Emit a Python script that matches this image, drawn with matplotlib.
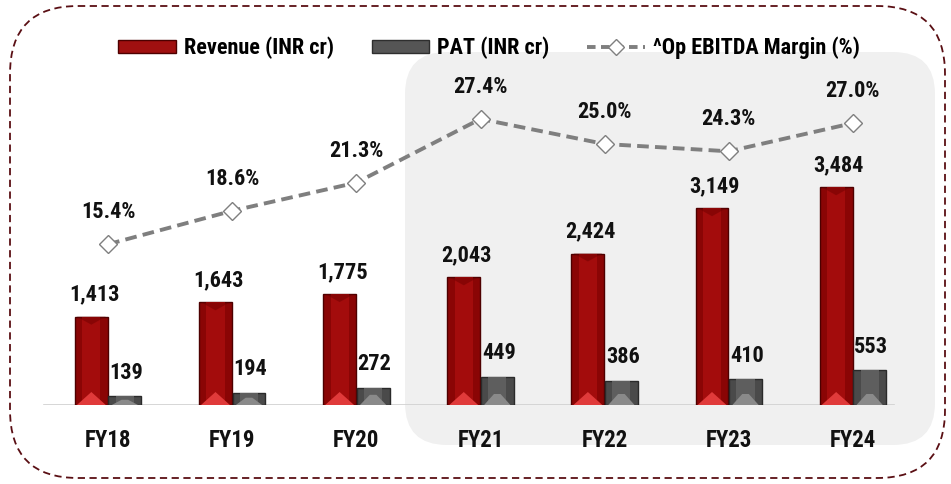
import matplotlib
matplotlib.use("Agg")
import matplotlib.pyplot as plt
from matplotlib.patches import FancyBboxPatch, Patch, Polygon
from matplotlib.lines import Line2D
import numpy as np

categories = ["FY18", "FY19", "FY20", "FY21", "FY22", "FY23", "FY24"]
revenue = [1413, 1643, 1775, 2043, 2424, 3149, 3484]
pat = [139, 194, 272, 449, 386, 410, 553]
margin = [15.4, 18.6, 21.3, 27.4, 25.0, 24.3, 27.0]

plt.rcParams['font.family'] = ['Roboto Condensed', 'Liberation Sans Narrow', 'Roboto', 'DejaVu Sans']
plt.rcParams['font.weight'] = 'bold'

W, H = 951, 484
fig = plt.figure(figsize=(W / 100, H / 100), dpi=100)

def fx(px):
    return px / W

def fy(py):
    return 1 - py / H

# background decoration axes in pixel coordinates
bg = fig.add_axes([0, 0, 1, 1], zorder=-5)
bg.set_xlim(0, W)
bg.set_ylim(H, 0)
bg.axis("off")
bg.add_patch(FancyBboxPatch((10, 6), 935, 472, boxstyle="round,pad=0,rounding_size=68",
                            fill=False, edgecolor="#5a0f14", linewidth=1.3,
                            linestyle=(0, (4, 2.5))))
bg.add_patch(FancyBboxPatch((405, 52), 530, 393, boxstyle="round,pad=0,rounding_size=42",
                            facecolor="#f0f0f0", edgecolor="none"))

ax = fig.add_axes([fx(15), fy(405), fx(931), 345 / H], zorder=1)
ax.set_facecolor("none")
x = np.arange(len(categories))
bw = 0.265
off = 0.135
unit = 16.0  # data units per pixel on the bar axis

rbars = ax.bar(x - off, revenue, bw, color="#8a0505", edgecolor="#4d0000", linewidth=1.0, zorder=3)
pbars = ax.bar(x + off, pat, bw, color="#4a4a4a", edgecolor="#2a2a2a", linewidth=1.0, zorder=3)
ax.bar(x - off, revenue, bw * 0.55, color="#a30c0c", edgecolor="none", zorder=3.1)
ax.bar(x + off, pat, bw * 0.55, color="#5e5e5e", edgecolor="none", zorder=3.1)

# bevel facets derived from each bar's own geometry
for b in rbars:
    x0, w, h = b.get_x(), b.get_width(), b.get_height()
    th = min(13 * unit, h)
    ax.add_patch(Polygon([[x0 + w * 0.06, 0], [x0 + w * 0.94, 0], [x0 + w / 2, th]],
                         closed=True, facecolor="#e03a3a", edgecolor="none", zorder=3.2))
    ax.add_patch(Polygon([[x0 + w * 0.06, h], [x0 + w * 0.94, h], [x0 + w / 2, h - 8 * unit]],
                         closed=True, facecolor="#6e0000", edgecolor="none", zorder=3.2, alpha=0.5))
for b in pbars:
    x0, w, h = b.get_x(), b.get_width(), b.get_height()
    th = min(11 * unit, h * 0.6)
    ax.add_patch(Polygon([[x0 + w * 0.1, 0], [x0 + w * 0.9, 0], [x0 + w * 0.5 + w * 0.1, th],
                          [x0 + w * 0.5 - w * 0.1, th]],
                         closed=True, facecolor="#8a8a8a", edgecolor="none", zorder=3.2))

ax.set_ylim(0, 345 * unit)
ax.set_xlim(-0.75, 6.75)
ax.plot([-0.52, 6.33], [0, 0], color="#d0d0d0", lw=1.2, zorder=2)

for xi, v in zip(x, revenue):
    ax.annotate(f"{v:,}", (xi - off, v), xytext=(2, 8), textcoords="offset points",
                ha="center", va="bottom", fontsize=16, fontweight=900, color="#111111")
for xi, v in zip(x, pat):
    ax.annotate(f"{v:,}", (xi + off, v), xytext=(1, 9), textcoords="offset points",
                ha="center", va="bottom", fontsize=16, fontweight=900, color="#111111")

for s in ax.spines.values():
    s.set_visible(False)
ax.set_yticks([])
ax.set_xticks(x)
ax.set_xticklabels(categories, fontsize=16.5, fontweight=900, color="#111111")
ax.tick_params(axis="x", length=0, pad=17)

ax2 = ax.twinx()
ax2.set_ylim(0, 345 / 10.44)
ax2.plot(x, margin, color="#7f7f7f", lw=2.8, linestyle=(0, (3, 1.6)),
         marker="D", markersize=9, markerfacecolor="white", markeredgecolor="#7f7f7f",
         markeredgewidth=1.0, zorder=5)
for xi, v in zip(x, margin):
    ax2.annotate(f"{v:.1f}%", (xi, v), xytext=(0, 15), textcoords="offset points",
                 ha="center", va="bottom", fontsize=16, fontweight=900, color="#111111")
ax2.set_yticks([])
for s in ax2.spines.values():
    s.set_visible(False)

handles = [
    Patch(facecolor="#a01010", edgecolor="#4d0000", label="Revenue (INR cr)"),
    Patch(facecolor="#555555", edgecolor="#2e2e2e", label="PAT (INR cr)"),
    Line2D([0], [0], color="#7f7f7f", lw=2.8, linestyle=(0, (2.2, 1.4)), marker="D",
           markersize=8, markerfacecolor="white", markeredgecolor="#7f7f7f",
           label="^Op EBITDA Margin (%)"),
]
fig.legend(handles=handles, loc="center", bbox_to_anchor=(fx(489), fy(48)), ncol=3,
           frameon=False, handlelength=2.6, handleheight=0.5,
           columnspacing=1.7, handletextpad=0.35, prop={"weight": 900, "size": 16})

fig.savefig("out.png", dpi=100)
